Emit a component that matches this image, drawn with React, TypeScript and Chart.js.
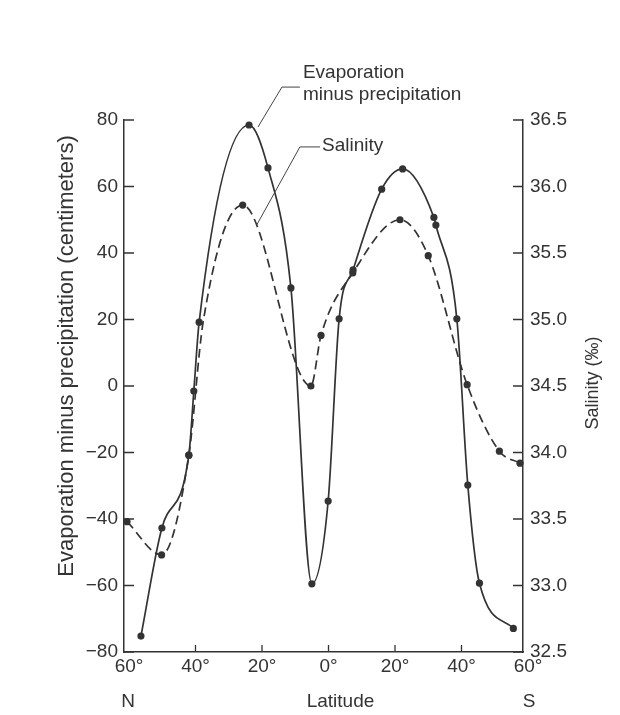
import React, { useEffect, useRef } from 'react';
import { Chart, registerables } from 'chart.js';

Chart.register(...registerables);

// ---- Data ----
const epLatitudes = [-54.9, -48.6, -40.5, -39.0, -37.4, -22.4, -16.7, -9.8, -3.5, 1.4, 4.7, 8.9, 17.5, 23.8, 33.2, 33.8, 40.1, 43.4, 46.9, 57.1];
const epValues = [-75.2, -42.7, -20.8, -1.5, 19.2, 78.5, 65.6, 29.5, -59.5, -34.6, 20.2, 34.9, 59.2, 65.3, 50.7, 48.4, 20.2, -29.8, -59.3, -72.9];

const salLatitudes = [-59.1, -48.7, -40.5, -36.2, -24.3, -3.8, -0.75, 8.8, 23.0, 31.5, 43.2, 52.9, 59.1];
const salValues = [33.48, 33.23, 33.98, 34.98, 35.86, 34.5, 34.88, 35.35, 35.75, 35.48, 34.51, 34.01, 33.92];
const salMarked = [true, true, true, false, true, true, true, true, true, true, true, true, true];

const latTicks = [-60, -40, -20, 0, 20, 40, 60];
const latTickLabels = ['60°', '40°', '20°', '0°', '20°', '40°', '60°'];
const epTicks = [-80, -60, -40, -20, 0, 20, 40, 60, 80];
const epTickLabels = ['−80', '−60', '−40', '−20', '0', '20', '40', '60', '80'];
const salTicks = [32.5, 33.0, 33.5, 34.0, 34.5, 35.0, 35.5, 36.0, 36.5];
const salTickLabels = ['32.5', '33.0', '33.5', '34.0', '34.5', '35.0', '35.5', '36.0', '36.5'];

const epTitle = 'Evaporation minus precipitation (centimeters)';
const salTitle = 'Salinity (‰)';
const latTitle = 'Latitude';
const northLabel = 'N';
const southLabel = 'S';
const epNoteLines = ['Evaporation', 'minus precipitation'];
const salNote = 'Salinity';
// leader lines in data units (latitude, E-P scale)
const epLeader = [[-19.7, 77.9], [-12.5, 89.9], [-7.1, 89.9]];
const salLeader = [[-20.1, 48.4], [-7.1, 71.9], [-1.05, 71.9]];

const INK = '#333333';
const FONT = "'Liberation Sans', Arial, Helvetica, sans-serif";
const X_LABEL_SHIFT = 5;

const overlay = {
  id: 'overlay',
  afterDatasetsDraw(chart: any) {
    const { ctx, chartArea, scales } = chart;
    const x = scales.x, y = scales.y, y1 = scales.y1;
    ctx.save();
    ctx.strokeStyle = INK;
    ctx.fillStyle = INK;
    ctx.lineWidth = 1.3;
    // inside tick marks
    ctx.beginPath();
    y.ticks.forEach((t: any) => {
      const py = y.getPixelForValue(t.value);
      ctx.moveTo(chartArea.left, py);
      ctx.lineTo(chartArea.left + 10, py);
    });
    y1.ticks.forEach((t: any) => {
      const py = y1.getPixelForValue(t.value);
      ctx.moveTo(chartArea.right, py);
      ctx.lineTo(chartArea.right - 10, py);
    });
    x.ticks.forEach((t: any) => {
      if (t.value === -60 || t.value === 60) return;
      const px = x.getPixelForValue(t.value) + X_LABEL_SHIFT;
      ctx.moveTo(px, chartArea.bottom);
      ctx.lineTo(px, chartArea.bottom - 7);
    });
    ctx.stroke();

    // leader lines
    ctx.lineWidth = 1;
    ctx.strokeStyle = '#444';
    [epLeader, salLeader].forEach((pts) => {
      ctx.beginPath();
      pts.forEach((p, i) => {
        const px = x.getPixelForValue(p[0]);
        const py = y.getPixelForValue(p[1]);
        if (i === 0) ctx.moveTo(px, py); else ctx.lineTo(px, py);
      });
      ctx.stroke();
    });

    // annotation text
    ctx.font = `19px ${FONT}`;
    ctx.textBaseline = 'middle';
    ctx.textAlign = 'left';
    const ex = x.getPixelForValue(epLeader[2][0]) + 3;
    const ey = y.getPixelForValue(epLeader[2][1]);
    ctx.fillText(epNoteLines[0], ex, ey - 14);
    ctx.fillText(epNoteLines[1], ex, ey + 8);
    const sx = x.getPixelForValue(salLeader[2][0]) + 2;
    const sy = y.getPixelForValue(salLeader[2][1]);
    ctx.fillText(salNote, sx, sy - 1);

    // bottom labels
    ctx.textAlign = 'center';
    const by = chartArea.bottom + 50;
    ctx.fillText(northLabel, x.getPixelForValue(-60) + 4, by);
    ctx.fillText(southLabel, x.getPixelForValue(60) + 6, by);
    ctx.fillText(latTitle, (chartArea.left + chartArea.right) / 2 + 17, by);

    // axis titles
    ctx.save();
    ctx.font = `22px ${FONT}`;
    ctx.translate(chartArea.left - 57, (chartArea.top + chartArea.bottom) / 2 - 30);
    ctx.rotate(-Math.PI / 2);
    ctx.fillText(epTitle, 0, 0);
    ctx.restore();

    ctx.save();
    ctx.font = `18px ${FONT}`;
    ctx.translate(chartArea.right + 70, (chartArea.top + chartArea.bottom) / 2 - 3);
    ctx.rotate(-Math.PI / 2);
    ctx.fillText(salTitle, 0, 0);
    ctx.restore();

    ctx.restore();
  },
};

export default function App() {
  const ref = useRef<HTMLCanvasElement>(null);
  useEffect(() => {
    if (!ref.current) return;
    const tickFont = { family: FONT, size: 19 };
    const chart = new Chart(ref.current, {
      type: 'line',
      data: {
        datasets: [
          {
            label: 'Evaporation minus precipitation',
            data: epLatitudes.map((v, i) => ({ x: v, y: epValues[i] })),
            yAxisID: 'y',
            borderColor: INK,
            borderWidth: 1.7,
            pointRadius: 3.6,
            pointBackgroundColor: INK,
            pointBorderWidth: 0,
            cubicInterpolationMode: 'monotone',
            fill: false,
            clip: false,
          },
          {
            label: 'Salinity',
            data: salLatitudes.map((v, i) => ({ x: v, y: salValues[i] })),
            yAxisID: 'y1',
            borderColor: INK,
            borderWidth: 1.7,
            borderDash: [9, 5],
            pointRadius: salMarked.map((m) => (m ? 3.6 : 0)),
            pointBackgroundColor: INK,
            pointBorderWidth: 0,
            cubicInterpolationMode: 'monotone',
            fill: false,
            clip: false,
          },
        ],
      },
      options: {
        animation: false,
        responsive: false,
        layout: { padding: { top: 120, left: 0, right: 0, bottom: 0 } },
        plugins: { legend: { display: false }, tooltip: { enabled: false } },
        scales: {
          x: {
            type: 'linear',
            min: -60,
            max: 60,
            afterBuildTicks: (s: any) => { s.ticks = latTicks.map((value) => ({ value })); },
            afterFit: (s: any) => { s.height = 63; },
            ticks: {
              callback: (_v: any, i: number) => latTickLabels[i],
              font: tickFont,
              color: INK,
              padding: 3,
              labelOffset: X_LABEL_SHIFT,
              maxRotation: 0,
              autoSkip: false,
            },
            grid: { drawOnChartArea: false, drawTicks: false, color: INK },
            border: { color: INK, width: 1.5 },
          },
          y: {
            type: 'linear',
            position: 'left',
            min: -80,
            max: 80,
            afterBuildTicks: (s: any) => { s.ticks = epTicks.map((value) => ({ value })); },
            afterFit: (s: any) => { s.width = 124; },
            ticks: {
              callback: (_v: any, i: number) => epTickLabels[i],
              font: tickFont,
              color: INK,
              padding: 6,
              autoSkip: false,
            },
            grid: { drawOnChartArea: false, drawTicks: false, color: INK },
            border: { color: INK, width: 1.5 },
          },
          y1: {
            type: 'linear',
            position: 'right',
            min: 32.5,
            max: 36.5,
            afterBuildTicks: (s: any) => { s.ticks = salTicks.map((value) => ({ value })); },
            afterFit: (s: any) => { s.width = 97; },
            ticks: {
              callback: (_v: any, i: number) => salTickLabels[i],
              font: tickFont,
              color: INK,
              padding: 7,
              autoSkip: false,
            },
            grid: { drawOnChartArea: false, drawTicks: false, color: INK },
            border: { color: INK, width: 1.5 },
          },
        },
      },
      plugins: [overlay],
    } as any);
    return () => chart.destroy();
  }, []);

  return (
    <div style={{ position: 'absolute', left: 0, top: 0, width: 620, height: 715, background: '#fff' }}>
      <canvas ref={ref} width={620} height={715} style={{ display: 'block' }} />
    </div>
  );
}
